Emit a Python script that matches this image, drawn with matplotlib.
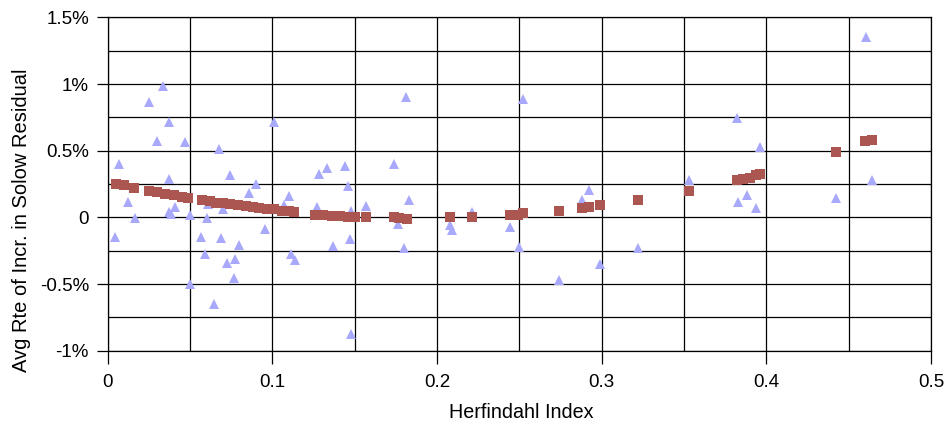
import numpy as np
import matplotlib
matplotlib.use("Agg")
import matplotlib.pyplot as plt
from matplotlib.ticker import MultipleLocator, FuncFormatter

plt.rcParams['font.family'] = ['Liberation Sans', 'DejaVu Sans']

# observed values (triangles), x = Herfindahl index, y in %
tri_x = [0.0047, 0.0069, 0.012, 0.0168, 0.0249, 0.030, 0.0338, 0.0369, 0.0369, 0.0369,
         0.0387, 0.041, 0.047, 0.0498, 0.0498, 0.0569, 0.0589, 0.060, 0.061, 0.0646,
         0.0678, 0.0689, 0.070, 0.0727, 0.074, 0.0767, 0.077, 0.080, 0.0859, 0.090,
         0.0958, 0.1009, 0.107, 0.110, 0.111, 0.114, 0.127, 0.128, 0.133, 0.137,
         0.144, 0.146, 0.147, 0.148, 0.148, 0.157, 0.174, 0.176, 0.180, 0.181,
         0.183, 0.208, 0.209, 0.221, 0.244, 0.250, 0.252, 0.274, 0.288, 0.292,
         0.299, 0.322, 0.353, 0.382, 0.383, 0.388, 0.394, 0.396, 0.442, 0.4603, 0.464]
tri_y = [-0.148, 0.398, 0.115, -0.005, 0.866, 0.576, 0.983, 0.713, 0.285, 0.038,
         0.023, 0.077, 0.565, 0.015, -0.498, -0.148, -0.278, -0.005, 0.10, -0.653,
         0.516, -0.155, 0.06, -0.34, 0.318, -0.456, -0.315, -0.205, 0.185, 0.248,
         -0.085, 0.713, 0.09, 0.158, -0.278, -0.323, 0.077, 0.325, 0.373, -0.215,
         0.385, 0.235, -0.16, 0.047, -0.873, 0.085, 0.398, -0.047, -0.23, 0.903,
         0.128, -0.06, -0.098, 0.04, -0.073, -0.223, 0.891, -0.473, 0.128, 0.208,
         -0.353, -0.228, 0.283, 0.746, 0.115, 0.165, 0.073, 0.528, 0.145, 1.349, 0.278]

# fitted values (squares)
sq_x = [0.005, 0.010, 0.016, 0.025, 0.030, 0.035, 0.040, 0.045, 0.049, 0.057,
        0.062, 0.066, 0.070, 0.074, 0.079, 0.084, 0.088, 0.092, 0.097, 0.101,
        0.106, 0.110, 0.113, 0.126, 0.131, 0.136, 0.141, 0.146, 0.150, 0.157,
        0.174, 0.177, 0.182, 0.208, 0.221, 0.244, 0.249, 0.252, 0.274, 0.288,
        0.292, 0.299, 0.322, 0.353, 0.382, 0.386, 0.390, 0.394, 0.396, 0.442,
        0.460, 0.464]
sq_y = [0.25, 0.24, 0.22, 0.20, 0.19, 0.175, 0.165, 0.155, 0.145, 0.13,
        0.12, 0.11, 0.105, 0.10, 0.09, 0.085, 0.075, 0.07, 0.065, 0.06,
        0.05, 0.045, 0.04, 0.017, 0.015, 0.012, 0.008, 0.006, 0.005, 0.003,
        0.0, -0.005, -0.012, 0.0, 0.0, 0.015, 0.02, 0.032, 0.047, 0.07,
        0.077, 0.09, 0.128, 0.198, 0.283, 0.288, 0.295, 0.32, 0.328, 0.49,
        0.573, 0.578]

fig = plt.figure(figsize=(9.51, 4.23), dpi=100)
ax = fig.add_axes([0.1133, 0.171, 0.8657, 0.788])

ax.plot(tri_x, tri_y, linestyle='none', marker='^', ms=6.5, mew=0, color='#a9a9fb', zorder=3)
ax.plot(sq_x, sq_y, linestyle='none', marker='s', ms=7.2, mew=0, color='#ab5651', zorder=4)

ax.set_xlim(0, 0.5)
ax.set_ylim(-1, 1.5)
ax.xaxis.set_major_locator(MultipleLocator(0.1))
ax.xaxis.set_minor_locator(MultipleLocator(0.05))
ax.yaxis.set_major_locator(MultipleLocator(0.5))
ax.yaxis.set_minor_locator(MultipleLocator(0.25))
ax.xaxis.set_major_formatter(FuncFormatter(lambda v, p: '0' if abs(v) < 1e-9 else f'{v:g}'))
ax.yaxis.set_major_formatter(FuncFormatter(lambda v, p: '0' if abs(v) < 1e-9 else f'{v:g}%'))

ax.grid(True, which='both', color='black', linewidth=0.9)
ax.set_axisbelow(True)
ax.tick_params(which='major', direction='out', width=0.9, labelsize=13.5)
ax.tick_params(axis='x', which='major', length=9, pad=8)
ax.tick_params(axis='y', which='major', length=8, pad=5.5)
ax.tick_params(which='minor', length=0)
for s in ax.spines.values():
    s.set_linewidth(0.9)
    s.set_color('black')

ax.set_xlabel('Herfindahl Index', fontsize=14.2)
ax.set_ylabel('Avg Rte of Incr. in Solow Residual', fontsize=14.5)
ax.xaxis.set_label_coords(0.502, -0.157)
ax.yaxis.set_label_coords(-0.0927, 0.3905)

fig.savefig('out.png', dpi=100)
